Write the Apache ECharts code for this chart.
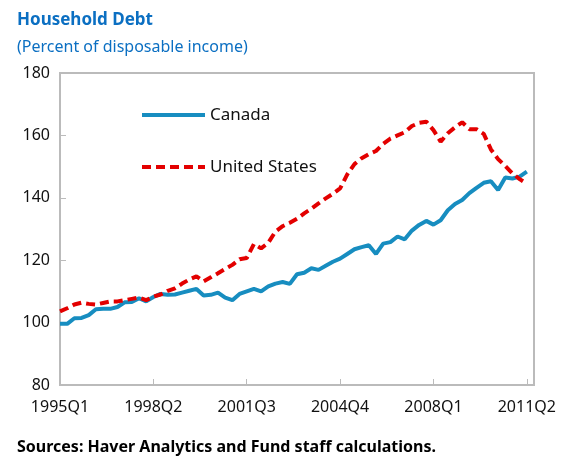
<!DOCTYPE html>
<html>
<head>
<meta charset="utf-8">
<script src="https://cdn.jsdelivr.net/npm/echarts@6/dist/echarts.min.js"></script>
<style>
  html, body { margin: 0; padding: 0; background: #fff; }
  #chart { width: 568px; height: 459px; }
</style>
</head>
<body>
<div id="chart"></div>
<script>
// quarters 1995Q1 .. 2011Q3 (last one empty, axis runs one quarter past the data)
var quarters = [];
for (var y = 1995; y <= 2011; y++) {
  for (var q = 1; q <= 4; q++) {
    if (y === 2011 && q > 3) break;
    quarters.push(y + "Q" + q);
  }
}

// Household debt, percent of disposable income
var canada = [
  99.6, 99.6, 101.4, 101.5, 102.4, 104.3, 104.4, 104.4, 105.0, 106.5,
  106.6, 107.8, 106.8, 108.2, 109.2, 108.9, 109.0, 109.6, 110.2, 110.8,
  108.7, 108.9, 109.6, 108.0, 107.2, 109.2, 110.0, 110.8, 110.0, 111.6,
  112.5, 113.0, 112.4, 115.5, 116.0, 117.4, 116.9, 118.2, 119.5, 120.5,
  122.0, 123.5, 124.2, 124.8, 122.0, 125.3, 125.8, 127.6, 126.7, 129.5,
  131.3, 132.6, 131.4, 132.8, 136.0, 138.0, 139.3, 141.5, 143.2, 144.8,
  145.3, 142.5, 146.5, 146.2, 146.8, 148.4
];
var unitedStates = [
  103.6, 104.6, 105.8, 106.4, 106.0, 105.8, 106.3, 106.8, 106.8, 107.2,
  107.6, 108.0, 107.2, 108.3, 109.0, 110.2, 111.0, 112.5, 113.8, 114.8,
  113.2, 114.5, 115.8, 117.2, 118.5, 120.3, 120.7, 125.2, 123.8, 125.6,
  129.2, 130.9, 132.0, 133.3, 135.0, 136.5, 138.2, 139.8, 141.3, 143.0,
  147.5, 150.8, 152.7, 154.0, 155.0, 157.3, 159.0, 160.0, 161.0, 163.0,
  164.0, 164.4, 161.7, 158.0, 160.7, 162.6, 164.2, 162.0, 162.0, 160.5,
  155.5, 152.4, 150.2, 147.8, 146.0, 144.5
];

var font = "Noto Sans";
var chart = echarts.init(document.getElementById("chart"));

var option = {
  animation: false,
  textStyle: { fontFamily: font },
  title: [
    {
      text: "Household Debt",
      left: 12, top: 7,
      textStyle: { fontFamily: font, fontSize: 17, fontWeight: "bold", color: "#0B6FC2" }
    },
    {
      text: "(Percent of disposable income)",
      left: 12, top: 34,
      textStyle: { fontFamily: font, fontSize: 16, fontWeight: "normal", color: "#0B6FC2" }
    },
    {
      text: "Sources: Haver Analytics and Fund staff calculations.",
      left: 12, top: 434,
      textStyle: { fontFamily: font, fontSize: 16, fontWeight: "bold", color: "#000" }
    }
  ],
  legend: {
    orient: "vertical",
    left: 135, top: 99,
    itemWidth: 63, itemHeight: 14,
    itemGap: 30,
    itemStyle: { opacity: 0 },
    lineStyle: { width: 4 },
    textStyle: { fontFamily: font, fontSize: 17, color: "#111", lineHeight: 22 },
    data: ["Canada", "United States"]
  },
  grid: {
    left: 60, right: 34, top: 73, bottom: 74,
    show: true, borderColor: "#BBBBBB", borderWidth: 2
  },
  xAxis: {
    type: "category",
    data: quarters,
    boundaryGap: false,
    axisLine: { lineStyle: { color: "#BBBBBB", width: 2 } },
    axisTick: { inside: true, interval: 12, length: 6, lineStyle: { color: "#BBBBBB", width: 1 } },
    axisLabel: { interval: 12, margin: 14, fontFamily: font, fontSize: 16, color: "#111" },
    splitLine: { show: false }
  },
  yAxis: {
    type: "value",
    min: 80, max: 180, interval: 20,
    axisLine: { show: true, lineStyle: { color: "#BBBBBB", width: 2 } },
    axisTick: { show: true, inside: true, length: 6, lineStyle: { color: "#BBBBBB", width: 1 } },
    axisLabel: { margin: 10, fontFamily: font, fontSize: 16, color: "#111" },
    splitLine: { show: false }
  },
  series: [
    {
      name: "Canada",
      type: "line",
      data: canada,
      symbol: "none",
      lineStyle: { color: "#178DC0", width: 4 },
      itemStyle: { color: "#178DC0" }
    },
    {
      name: "United States",
      type: "line",
      data: unitedStates,
      symbol: "none",
      lineStyle: { color: "#E30000", width: 4, type: [9, 5] },
      itemStyle: { color: "#E30000" }
    }
  ]
};

chart.setOption(option);
</script>
</body>
</html>
